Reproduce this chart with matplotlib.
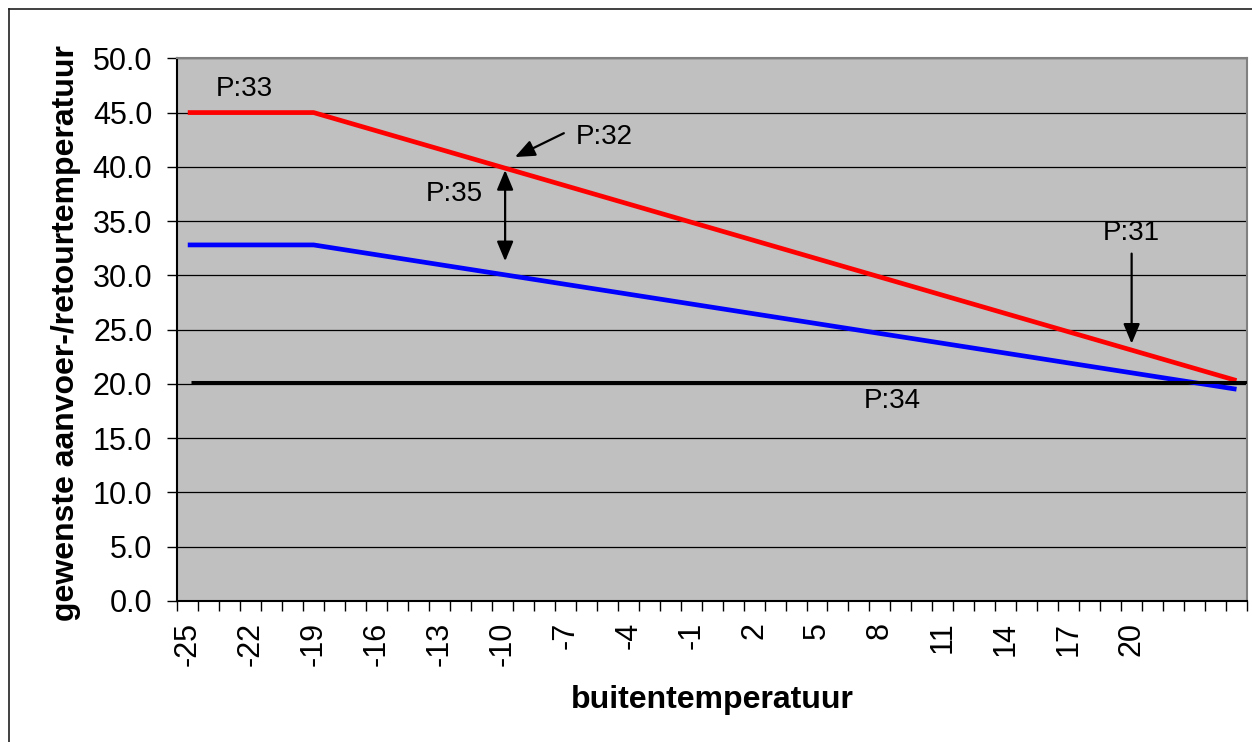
import matplotlib
matplotlib.use("Agg")
import matplotlib.pyplot as plt
from matplotlib.patches import FancyArrowPatch
from matplotlib.lines import Line2D

plt.rcParams['font.family'] = ['Liberation Sans', 'DejaVu Sans']

# outdoor temperature categories (one per degree)
categories = list(range(-25, 26))
tick_labels = [str(t) for t in range(-25, 21, 3)]

# breakpoints of the two heating curves (straight segments in between)
supply_temp = [-25, -19, 25]
supply_vals = [45.0, 45.0, 20.3]
return_temp = [-25, -19, 25]
return_vals = [32.8, 32.8, 19.5]
room_setpoint = 20.2

def pos(t):
    return categories.index(t)

fig = plt.figure(figsize=(12.52, 7.42), dpi=100)
ax = fig.add_axes([0.1416, 0.1903, 0.8544, 0.7311])
ax.set_facecolor('#C0C0C0')

# outer chart frame
fig.add_artist(Line2D([9/1252, 9/1252], [1 - 9/742, -0.1], color='#202020', lw=1.2))
fig.add_artist(Line2D([9/1252, 1.1], [1 - 9/742, 1 - 9/742], color='#202020', lw=1.2))

ax.set_xlim(-0.5, len(categories) - 0.5)
ax.set_ylim(0, 50)

ax.yaxis.grid(True, color='black', lw=0.9)
ax.set_axisbelow(True)

ax.plot([pos(t) for t in supply_temp], supply_vals, color='#FF0000', lw=3.4,
        solid_capstyle='butt', zorder=3)
ax.plot([pos(t) for t in return_temp], return_vals, color='#0000FF', lw=3.4,
        solid_capstyle='butt', zorder=3)
ax.hlines(room_setpoint, 0.15, len(categories) - 0.5, color='black', lw=2.2, zorder=4)

# y axis
ax.set_yticks(range(0, 51, 5))
ax.set_yticklabels([f"{v:.1f}" for v in range(0, 51, 5)], fontsize=22)
ax.tick_params(axis='y', direction='out', length=7, width=1, pad=11)

# x axis: labels every 3rd category, tick marks between categories
ax.set_xticks([pos(int(s)) for s in tick_labels])
ax.set_xticklabels(tick_labels, rotation=90, fontsize=22)
ax.set_xticks([i - 0.5 for i in range(len(categories) + 1)], minor=True)
ax.tick_params(axis='x', which='major', length=0, pad=15)
ax.tick_params(axis='x', which='minor', direction='out', length=7, width=1)

for s in ['left', 'bottom']:
    ax.spines[s].set_color('black')
    ax.spines[s].set_linewidth(1.5)
for s in ['top', 'right']:
    ax.spines[s].set_color('#808080')
    ax.spines[s].set_linewidth(1.5)

ax.set_xlabel('buitentemperatuur', fontsize=23, fontweight='bold', va='center')
ax.xaxis.set_label_coords(0.5, -0.183)
ax.set_ylabel('gewenste aanvoer-/retourtemperatuur', fontsize=23, fontweight='bold',
              va='center')
ax.yaxis.set_label_coords(-0.104, 0.494)

# annotations
txt = dict(fontsize=20, ha='center', va='center', zorder=5)
ax.text(2.7, 47.2, 'P:33', **txt)
ax.text(19.86, 42.75, 'P:32', **txt)
ax.text(12.72, 37.5, 'P:35', **txt)
ax.text(45.0, 33.9, 'P:31', **txt)
ax.text(33.6, 18.45, 'P:34', **txt)

head = "-|>,head_length=1.2,head_width=0.5"
arrows = [
    ((17.93, 43.1), (15.6, 40.9), head),
    ((45.0, 32.0), (45.0, 23.7), head),
    ((15.13, 31.3), (15.13, 39.7), "<|-|>,head_length=1.2,head_width=0.5"),
]
for start, end, style in arrows:
    ax.add_patch(FancyArrowPatch(start, end, arrowstyle=style, mutation_scale=10,
                                 color='black', lw=1.6, shrinkA=0, shrinkB=0, zorder=5))

fig.savefig('out.png', dpi=100)
